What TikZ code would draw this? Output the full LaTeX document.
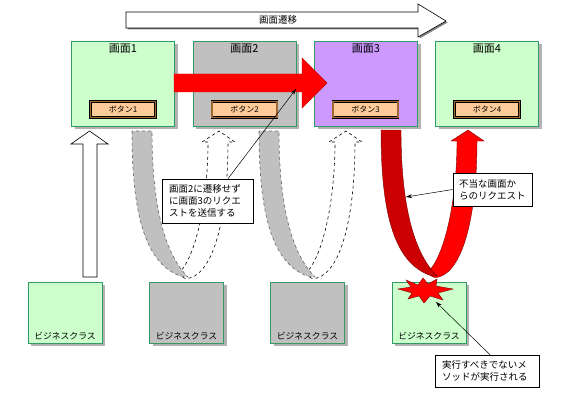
\documentclass[tikz,border=0pt]{standalone}
\usepackage{fontspec}
\setmainfont{Noto Sans CJK JP}
\usetikzlibrary{arrows.meta,shadows}
\definecolor{lgreen}{HTML}{CCFFCC}
\definecolor{bgreen}{HTML}{339966}
\definecolor{lgray}{HTML}{C0C0C0}
\definecolor{lpurple}{HTML}{CC99FF}
\definecolor{peach}{HTML}{FFCC99}
\definecolor{bevel}{HTML}{A06830}
\definecolor{dred}{HTML}{CC0000}
\definecolor{shade}{HTML}{B2B2B2}
\newcommand\ULeftRibbon[1]{\path[#1] (0,1) .. controls (0,90) and (15,133) .. (48,146) -- (56,147) .. controls (34,125) and (20,80) .. (20,1) -- cycle;}
\newcommand\URightLimb[1]{\path[#1] (46,144) .. controls (64,128) and (76,70) .. (76,12) -- (70,12) -- (87,1) -- (103,12) -- (96,12) .. controls (96,80) and (84,140) .. (58,148) .. controls (53,149) .. (46,144) -- cycle;}
\tikzset{
  myshadow/.style={drop shadow={shadow xshift=3pt,shadow yshift=-3pt,fill=shade,opacity=1}},
  screen/.style={draw=bgreen, line width=0.8pt, minimum width=103pt, minimum height=85pt, inner sep=0pt, myshadow},
  stitle/.style={anchor=north, inner sep=0pt, font=\fontsize{11}{13}\selectfont},
  btn/.style={draw=black, double=bevel, double distance=1.6pt, line width=0.5pt, fill=peach, minimum width=65pt, minimum height=16pt, inner sep=0pt, font=\fontsize{8}{10}\selectfont},
  bizbox/.style={draw=bgreen, line width=0.8pt, minimum width=74pt, minimum height=61pt, inner sep=0pt, myshadow},
  bizlabel/.style={anchor=south, inner sep=0pt, font=\fontsize{8.8}{10}\selectfont},
  callout/.style={draw=black, fill=white, line width=0.6pt, align=left, inner sep=0pt, font=\fontsize{9.5}{12}\selectfont},
  callarrow/.style={-{Stealth[length=6pt,width=4pt]}, line width=0.5pt},
  grayleft/.style={fill=lgray, draw=gray!80!black, dashed, line width=0.6pt},
  grayright/.style={fill=white, draw=black, dashed, line width=0.6pt},
  redleft/.style={fill=dred, draw=dred!60!black, line width=0.4pt},
  redright/.style={fill=red, draw=dred!60!black, line width=0.4pt}
}
\begin{document}
\begin{tikzpicture}[x=1pt,y=-1pt]
\useasboundingbox (0,0) rectangle (585,409);
% top transition arrow
\draw[fill=white, line width=0.6pt, drop shadow={shadow xshift=1.5pt,shadow yshift=-1.5pt,fill=gray,opacity=1}]
  (126,12) -- (418,12) -- (418,4) -- (446,21) -- (418,37) -- (418,28) -- (126,28) -- cycle;
\node[inner sep=0pt, font=\fontsize{9.5}{11}\selectfont] (tt) at (278,20) {画面遷移};
% screens
\node[screen, fill=lgreen] (s1) at (123,83.5) {};
\node[screen, fill=lgray] (s2) at (244.5,83.5) {};
\node[screen, fill=lpurple] (s3) at (366,83.5) {};
\node[screen, fill=lgreen] (s4) at (487,83.5) {};
\node[stitle] (t1) at ([yshift=-3pt]s1.north) {画面1};
\node[stitle] (t2) at ([yshift=-3pt]s2.north) {画面2};
\node[stitle] (t3) at ([yshift=-3pt]s3.north) {画面3};
\node[stitle] (t4) at ([yshift=-3pt]s4.north) {画面4};
\node[btn] (b1) at (123,109.5) {ボタン1};
\node[btn] (b2) at (244.5,109.5) {ボタン2};
\node[btn] (b3) at (365.5,109.5) {ボタン3};
\node[btn] (b4) at (487,109.5) {ボタン4};
% red transition arrow
\draw[fill=red, draw=red!80!black, line width=0.4pt]
  (174,74) -- (302,74) -- (302,58) -- (327,83) -- (302,108) -- (302,92) -- (174,92) -- cycle;
% white up arrow
\draw[fill=white, line width=0.6pt]
  (83,277) -- (83,144) -- (71,144) -- (89.5,131) -- (108,144) -- (97,144) -- (97,277) -- cycle;
% U-turn arrows
\begin{scope}[shift={(132,130)}]
  \URightLimb{grayright}
  \ULeftRibbon{grayleft}
\end{scope}
\begin{scope}[shift={(259,130)}]
  \URightLimb{grayright}
  \ULeftRibbon{grayleft}
\end{scope}
\begin{scope}[shift={(381,129)}]
  \URightLimb{redright}
  \ULeftRibbon{redleft}
\end{scope}
% business classes
\node[bizbox, fill=lgreen] (c1) at (65,312.5) {};
\node[bizbox, fill=lgray] (c2) at (186.5,312.5) {};
\node[bizbox, fill=lgray] (c3) at (307.5,312.5) {};
\node[bizbox, fill=lgreen] (c4) at (429,312.5) {};
\node[bizlabel] (l1) at ([yshift=3pt]c1.south) {ビジネスクラス};
\node[bizlabel] (l2) at ([yshift=3pt]c2.south) {ビジネスクラス};
\node[bizlabel] (l3) at ([yshift=3pt]c3.south) {ビジネスクラス};
\node[bizlabel] (l4) at ([yshift=3pt]c4.south) {ビジネスクラス};
% burst
\draw[fill=red, draw=dred!60!black, line width=0.4pt]
  (398,289) -- (411,287) -- (406,280) -- (418,285) -- (423,278) -- (428,284) -- (437,279) -- (436,286)
  -- (453,289) -- (438,293) -- (443,300) -- (430,296) -- (424,303) -- (419,296) -- (408,299) -- (412,293) -- cycle;
% callouts
\coordinate (tm) at (296,89);
\coordinate (tr) at (406,197);
\coordinate (tb) at (436,302);
\node[callout, minimum width=91pt, minimum height=44pt, text width=77pt] (m) at (207.5,201) {画面2に遷移せず\\に画面3のリクエ\\ストを送信する};
\node[callout, minimum width=79pt, minimum height=33pt, text width=67pt] (r) at (492.5,189.5) {不当な画面か\\らのリクエスト};
\node[callout, minimum width=104pt, minimum height=32pt, text width=90pt] (bt) at (487,371) {実行すべきでないメ\\ソッドが実行される};
\draw[callarrow] ([xshift=20.5pt]m.north) -- (tm);
\draw[callarrow] (r.west) -- (tr);
\draw[callarrow] ([xshift=3pt]bt.north) -- (tb);
\end{tikzpicture}
\end{document}
